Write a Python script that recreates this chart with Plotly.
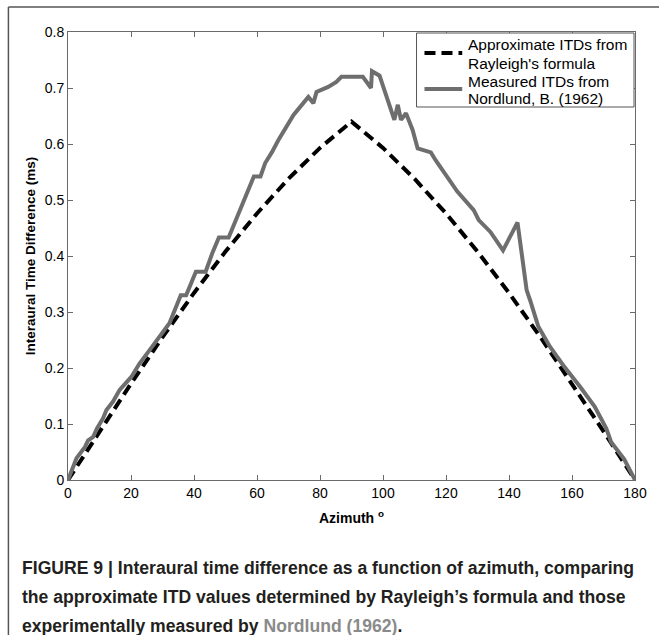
import plotly.graph_objects as go

# Approximate ITDs (Rayleigh's formula)
ray_az = [0, 10, 20, 30, 40, 50, 60, 70, 80, 90, 100, 110, 120, 130, 140, 150, 160, 170, 180]
ray_itd = [0.0, 0.087, 0.172, 0.255, 0.334, 0.408, 0.476, 0.538, 0.593, 0.640,
           0.593, 0.538, 0.476, 0.408, 0.334, 0.255, 0.172, 0.087, 0.0]

# Measured ITDs (Nordlund, 1962)
meas_az = [0, 2.7, 5.4, 6.4, 8.0, 9.2, 11.1, 12.2, 14.3, 16.4, 20.1, 22.7, 25.9, 29.0, 32.2,
           35.8, 37.5, 40.6, 43.7, 45.8, 47.9, 51.0, 53.2, 55.0, 59.0, 61.1, 62.6, 64.7, 65.5,
           66.8, 71.6, 76.3, 77.9, 78.9, 82.6, 85.2, 86.8, 93.6, 96.2, 96.5, 98.9, 103.6, 104.7,
           105.7, 107.3, 109.4, 111.0, 115.2, 116.7, 123.6, 128.8, 130.4, 134.1, 138.1, 142.7,
           144.6, 145.6, 146.7, 149.3, 153.0, 157.2, 162.5, 167.2, 170.9, 172.4, 176.6, 180]
meas_itd = [0.0, 0.039, 0.059, 0.071, 0.077, 0.092, 0.110, 0.125, 0.140, 0.161, 0.184, 0.208,
            0.232, 0.256, 0.280, 0.330, 0.330, 0.372, 0.372, 0.405, 0.433, 0.433, 0.464, 0.490,
            0.542, 0.542, 0.566, 0.585, 0.595, 0.607, 0.652, 0.684, 0.673, 0.693, 0.702, 0.711,
            0.720, 0.720, 0.700, 0.730, 0.722, 0.643, 0.670, 0.643, 0.655, 0.625, 0.592, 0.585,
            0.571, 0.515, 0.482, 0.464, 0.443, 0.410, 0.460, 0.387, 0.339, 0.321, 0.274, 0.238,
            0.205, 0.167, 0.131, 0.092, 0.068, 0.037, 0.0]

x_ticks = [0, 20, 40, 60, 80, 100, 120, 140, 160, 180]
y_ticks = [0, 0.1, 0.2, 0.3, 0.4, 0.5, 0.6, 0.7, 0.8]
y_tick_labels = ["0", "0.1", "0.2", "0.3", "0.4", "0.5", "0.6", "0.7", "0.8"]

legend_lines = [
    ["Approximate ITDs from", "Rayleigh's formula"],
    ["Measured ITDs from", "Nordlund, B. (1962)"],
]

W, H = 659, 635
L, R, T, B = 68, 20, 32, 155
pw, ph = W - L - R, H - T - B

def px(xp):
    return (xp - L) / pw

def py(yp):
    return (H - B - yp) / ph

ARIAL = "Liberation Sans, Arial, sans-serif"
DASH = "11px,6px"
GRAY = "#6e6e6e"

fig = go.Figure()
fig.add_trace(go.Scatter(
    x=ray_az, y=ray_itd, mode="lines",
    name=" ".join(legend_lines[0]), showlegend=False,
    line=dict(color="black", width=4, dash=DASH),
))
fig.add_trace(go.Scatter(
    x=meas_az, y=meas_itd, mode="lines",
    name=" ".join(legend_lines[1]), showlegend=False,
    line=dict(color=GRAY, width=4),
))

axis_common = dict(
    showline=True, linecolor="#6a6a6a", linewidth=1, mirror="ticks",
    ticks="inside", ticklen=5, tickcolor="#6a6a6a", showgrid=False, zeroline=False,
    tickfont=dict(family=ARIAL, size=14, color="black"),
)

fig.update_layout(
    width=W, height=H,
    margin=dict(l=L, r=R, t=T, b=B),
    paper_bgcolor="white", plot_bgcolor="white",
    xaxis=dict(
        range=[0, 180], tickvals=x_ticks, **axis_common,
        title=dict(text="<b>Azimuth <sup>o</sup></b>", standoff=13,
                   font=dict(family=ARIAL, size=14, color="black")),
    ),
    yaxis=dict(
        range=[0, 0.8], tickvals=y_ticks, ticktext=y_tick_labels, **axis_common,
        title=dict(text="<b>Interaural Time Difference (ms)</b>", standoff=6,
                   font=dict(family=ARIAL, size=13.5, color="black")),
    ),
)

# legend box drawn by hand (to match tight MATLAB legend spacing)
fig.add_shape(type="rect", xref="paper", yref="paper",
              x0=px(419), x1=px(638), y0=py(107), y1=py(33),
              line=dict(color="#555", width=1), fillcolor="white", layer="above")
fig.add_shape(type="line", xref="paper", yref="paper",
              x0=px(427), x1=px(465), y0=py(53), y1=py(53),
              line=dict(color="black", width=4, dash=DASH), layer="above")
fig.add_shape(type="line", xref="paper", yref="paper",
              x0=px(427), x1=px(465), y0=py(89), y1=py(89),
              line=dict(color=GRAY, width=4), layer="above")
for i, txt in enumerate(legend_lines[0] + legend_lines[1]):
    fig.add_annotation(text=txt, xref="paper", yref="paper",
                       x=px(469), y=py(45 + 18 * i), xanchor="left", yanchor="middle",
                       showarrow=False, font=dict(family=ARIAL, size=15.5, color="black"))

# outer frame (left and top lines)
fig.add_shape(type="line", xref="paper", yref="paper",
              x0=px(8), x1=px(8), y0=py(7), y1=py(H + 5),
              line=dict(color="#555", width=1.5))
fig.add_shape(type="line", xref="paper", yref="paper",
              x0=px(8), x1=px(W + 5), y0=py(7), y1=py(7),
              line=dict(color="#555", width=1.5))

cap_font = dict(family=ARIAL, size=17.6, color="#231f20")
caption = [
    "<b>FIGURE 9 | Interaural time difference as a function of azimuth, comparing</b>",
    "<b>the approximate ITD values determined by Rayleigh\u2019s formula and those</b>",
    "<b>experimentally measured by <span style='color:#8a8a8a'>Nordlund (1962)</span>.</b>",
]
for i, line in enumerate(caption):
    fig.add_annotation(text=line, xref="paper", yref="paper",
                       x=px(20), y=py(568 + 29 * i), xanchor="left", yanchor="middle",
                       showarrow=False, font=cap_font, align="left")

fig.write_html("out.html")
